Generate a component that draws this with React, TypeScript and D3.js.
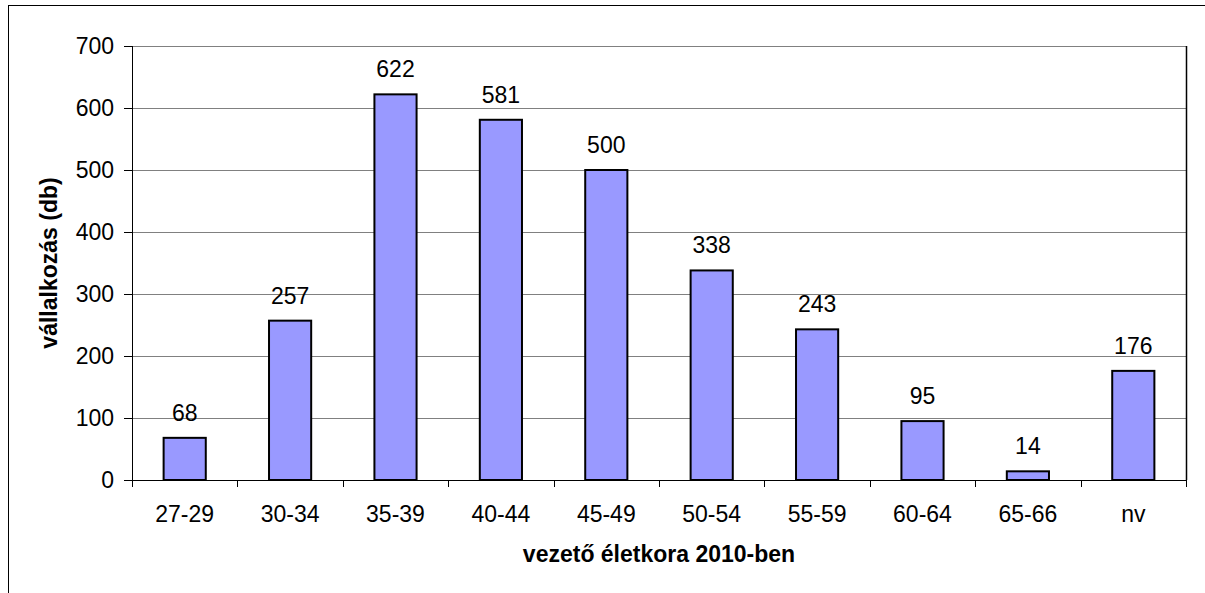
import React from "react";
import * as d3 from "d3";

const categories = ["27-29", "30-34", "35-39", "40-44", "45-49", "50-54", "55-59", "60-64", "65-66", "nv"];
const values = [68, 257, 622, 581, 500, 338, 243, 95, 14, 176];
const yTicks = [0, 100, 200, 300, 400, 500, 600, 700];
const yTitle = "vállalkozás (db)";
const xTitle = "vezető életkora 2010-ben";

const W = 1205;
const H = 593;
const left = 132;
const right = 1186;
const top = 46;
const bottom = 480;
const FONT = "'Liberation Sans', Arial, sans-serif";
const FS = 23;

export default function App() {
  const x = d3.scaleBand<string>().domain(categories).range([left, right]).paddingInner(0.6).paddingOuter(0.3);
  const step = (right - left) / categories.length;
  const y = d3.scaleLinear().domain([0, 700]).range([bottom, top]);

  return (
    <svg
      width={W}
      height={H}
      style={{ position: "absolute", left: 0, top: 0, background: "#fff" }}
      fontFamily={FONT}
    >
      <rect x={0} y={0} width={W} height={H} fill="#fff" />
      {/* outer border */}
      <rect x={8.5} y={5.5} width={W + 20} height={H + 20} fill="none" stroke="#000" strokeWidth={1} />
      {/* gridlines */}
      {yTicks.slice(1).map((t) => (
        <line key={"g" + t} x1={left} x2={right} y1={Math.round(y(t)) + 0.5} y2={Math.round(y(t)) + 0.5} stroke="#808080" strokeWidth={1} />
      ))}
      {/* right border of plot */}
      <line x1={right + 0.5} x2={right + 0.5} y1={top} y2={bottom} stroke="#000" strokeWidth={1.5} />
      {/* y ticks & labels */}
      {yTicks.map((t) => (
        <g key={"y" + t}>
          <line x1={124} x2={left} y1={Math.round(y(t)) + 0.5} y2={Math.round(y(t)) + 0.5} stroke="#000" strokeWidth={1} />
          <text x={114} y={y(t) + FS * 0.36} textAnchor="end" fontSize={FS} fill="#000">
            {t}
          </text>
        </g>
      ))}
      {/* bars */}
      {categories.map((c, i) => (
        <rect
          key={"b" + c}
          x={x(c)!}
          y={y(values[i])}
          width={x.bandwidth()}
          height={bottom - y(values[i])}
          fill="#9999FF"
          stroke="#000"
          strokeWidth={2}
        />
      ))}
      {/* value labels */}
      {categories.map((c, i) => (
        <text key={"v" + c} x={x(c)! + x.bandwidth() / 2} y={y(values[i]) - 17} textAnchor="middle" fontSize={FS} fill="#000">
          {values[i]}
        </text>
      ))}
      {/* axes */}
      <line x1={left + 0.5} x2={left + 0.5} y1={top} y2={bottom} stroke="#000" strokeWidth={1} />
      <line x1={left} x2={right} y1={bottom + 0.5} y2={bottom + 0.5} stroke="#000" strokeWidth={1} />
      {d3.range(categories.length + 1).map((i) => (
        <line key={"xt" + i} x1={Math.round(left + i * step) + 0.5} x2={Math.round(left + i * step) + 0.5} y1={bottom} y2={487} stroke="#000" strokeWidth={1} />
      ))}
      {categories.map((c) => (
        <text key={"xl" + c} x={x(c)! + x.bandwidth() / 2} y={522} textAnchor="middle" fontSize={FS} fill="#000">
          {c}
        </text>
      ))}
      <text x={(left + right) / 2} y={562} textAnchor="middle" fontSize={FS} fontWeight="bold" fill="#000">
        {xTitle}
      </text>
      <text
        transform={`translate(56.5, 263) rotate(-90)`}
        textAnchor="middle"
        fontSize={FS}
        fontWeight="bold"
        fill="#000"
      >
        {yTitle}
      </text>
    </svg>
  );
}
